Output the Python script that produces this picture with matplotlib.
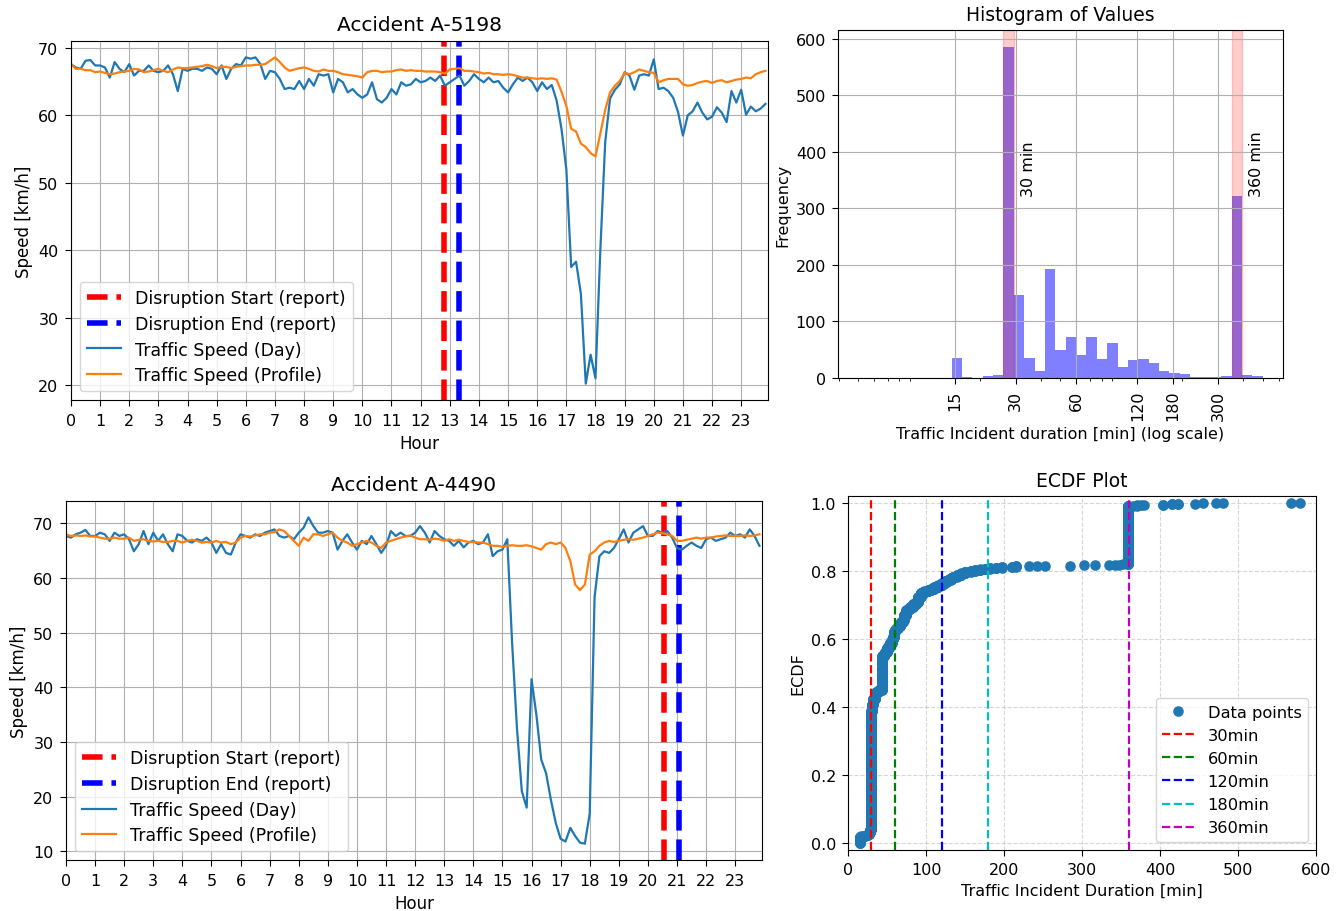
import numpy as np
import matplotlib
matplotlib.use("Agg")
import matplotlib.pyplot as plt

# ------------------------------------------------------------
# time series, 10 minute steps (144 per day)
hours = np.arange(144) / 6.0

day_5198 = [
    67.6, 67.1, 66.9, 68.1, 68.2, 67.4, 67.4, 67.1, 65.6, 67.9, 66.9, 66.4,
    67.6, 65.9, 66.6, 66.6, 67.4, 66.6, 66.4, 66.6, 67.4, 66.1, 63.6, 66.9,
    66.6, 66.9, 66.9, 66.6, 67.1, 66.9, 66.1, 67.4, 65.4, 66.9, 67.6, 67.4,
    68.6, 68.4, 68.6, 67.6, 65.4, 66.6, 66.4, 65.4, 63.9, 64.1, 63.9, 65.1,
    63.9, 65.4, 64.4, 66.1, 65.9, 66.1, 63.4, 65.4, 64.9, 63.4, 63.9, 63.1,
    62.6, 63.1, 64.9, 62.4, 61.9, 62.6, 63.9, 63.1, 64.9, 64.4, 64.6, 65.4,
    64.9, 65.1, 65.6, 65.1, 65.9, 64.4, 64.9, 65.4, 65.9, 64.4, 65.1, 66.1,
    65.4, 64.9, 65.6, 64.9, 65.1, 64.1, 63.4, 64.6, 65.6, 65.1, 65.6, 64.9,
    63.6, 64.9, 63.9, 64.5, 62.2, 58.0, 52.0, 37.5, 38.3, 33.5, 20.2, 24.5,
    21.0, 40.0, 56.0, 62.5, 63.8, 64.6, 66.4, 65.9, 63.8, 65.9, 66.1, 65.9,
    68.3, 63.9, 64.1, 63.6, 62.6, 60.5, 57.0, 60.0, 60.6, 61.9, 60.4, 59.4,
    59.8, 61.2, 60.4, 59.0, 63.6, 61.9, 63.8, 60.1, 61.3, 60.6, 61.0, 61.7,
]
profile_5198 = [
    67.6, 66.9, 66.9, 66.7, 66.7, 66.4, 66.5, 66.3, 66.1, 66.2, 66.4, 66.5,
    66.6, 66.9, 66.8, 66.4, 66.5, 66.7, 66.9, 66.6, 66.4, 66.8, 67.1, 67.0,
    67.0, 67.1, 67.2, 67.3, 67.5, 67.3, 67.0, 67.2, 67.2, 67.0, 67.2, 67.3,
    67.4, 67.4, 67.5, 67.5, 67.6, 68.1, 68.6, 67.9, 67.1, 66.6, 66.8, 67.0,
    67.1, 66.9, 66.6, 66.5, 66.8, 66.6, 66.6, 66.4, 66.1, 66.0, 65.9, 65.8,
    65.6, 66.4, 66.6, 66.6, 66.4, 66.5, 66.5, 66.7, 66.8, 66.6, 66.7, 66.6,
    66.6, 66.5, 66.5, 66.5, 66.4, 66.2, 66.8, 66.9, 67.0, 66.6, 66.6, 66.5,
    66.4, 66.2, 66.3, 66.1, 66.1, 66.0, 66.1, 66.0, 65.8, 65.6, 65.6, 65.5,
    65.4, 65.5, 65.4, 65.5, 65.3, 63.5, 61.4, 58.0, 57.6, 55.8, 55.3, 54.4,
    53.9, 57.3, 60.8, 63.4, 64.4, 65.1, 66.3, 66.1, 66.4, 66.8, 66.6, 66.4,
    66.3, 64.9, 65.2, 65.4, 65.4, 65.4, 64.6, 64.4, 64.5, 64.8, 65.0, 65.1,
    64.8, 65.1, 65.2, 64.9, 65.1, 65.3, 65.4, 65.6, 65.5, 66.1, 66.4, 66.6,
]
day_4490 = [
    67.7, 67.4, 68.0, 68.3, 68.8, 67.7, 67.7, 68.3, 68.0, 66.8, 68.3, 67.7,
    68.0, 67.1, 64.9, 66.2, 68.6, 66.2, 68.3, 66.8, 68.0, 66.2, 64.9, 68.0,
    67.7, 66.8, 66.5, 67.1, 66.8, 67.4, 66.5, 64.6, 66.2, 64.6, 64.3, 66.5,
    68.0, 67.7, 67.4, 68.0, 67.7, 68.3, 68.6, 68.9, 67.7, 67.4, 67.7, 67.1,
    68.3, 69.2, 71.1, 69.5, 68.3, 68.3, 68.6, 68.3, 65.2, 66.8, 68.0, 66.5,
    65.2, 66.8, 66.2, 67.7, 66.2, 64.6, 65.9, 68.6, 67.7, 68.3, 67.7, 67.7,
    68.3, 69.5, 68.3, 66.5, 68.6, 67.7, 67.1, 66.8, 65.9, 66.8, 65.6, 66.5,
    66.8, 66.2, 66.5, 68.0, 64.0, 64.9, 65.2, 67.1, 48.1, 32.5, 21.0, 18.0,
    41.5, 35.0, 26.8, 24.3, 19.4, 15.2, 12.3, 11.8, 14.3, 12.8, 11.6, 11.4,
    16.9, 56.5, 64.0, 64.9, 64.6, 65.5, 67.1, 68.9, 66.5, 68.3, 68.9, 69.5,
    67.7, 67.7, 68.6, 68.3, 68.6, 67.4, 65.5, 65.2, 65.9, 66.5, 65.9, 65.5,
    67.1, 67.4, 66.8, 67.1, 67.4, 68.3, 67.7, 68.0, 67.4, 68.9, 67.7, 65.9,
]
profile_4490 = [
    68.0, 67.7, 67.8, 67.7, 67.8, 67.6, 67.6, 67.4, 67.2, 67.2, 67.4, 67.2,
    67.2, 67.4, 66.8, 67.0, 67.1, 66.8, 66.7, 66.8, 66.6, 66.6, 66.8, 66.8,
    66.5, 66.8, 67.0, 66.8, 66.5, 66.6, 66.5, 66.8, 66.5, 66.6, 66.2, 66.5,
    67.4, 67.7, 67.6, 67.8, 68.0, 68.0, 68.3, 68.4, 68.9, 68.6, 67.7, 66.8,
    65.9, 67.4, 66.8, 68.0, 68.0, 67.7, 68.0, 68.3, 67.4, 66.8, 66.5, 65.9,
    66.2, 66.5, 66.8, 66.5, 65.9, 65.5, 66.5, 66.8, 67.1, 67.4, 67.6, 67.8,
    67.4, 67.1, 67.1, 67.0, 67.2, 67.1, 66.8, 67.1, 66.8, 67.0, 66.8, 66.6,
    66.6, 66.5, 66.5, 66.2, 65.9, 65.9, 65.7, 65.9, 66.0, 65.9, 65.9, 66.0,
    65.8, 65.5, 65.2, 66.2, 66.5, 66.2, 66.5, 65.5, 63.1, 58.8, 57.8, 58.8,
    64.3, 64.9, 65.9, 66.5, 66.8, 66.6, 66.8, 67.0, 67.1, 67.0, 67.2, 67.4,
    67.7, 68.0, 68.3, 68.2, 68.0, 67.7, 66.8, 66.8, 67.0, 67.2, 67.4, 67.2,
    67.4, 67.4, 67.6, 67.7, 67.8, 67.7, 67.7, 67.7, 67.8, 67.7, 67.8, 68.0,
]

# reported disruption start / end [hour]
start_5198, end_5198 = 12.8, 13.3
start_4490, end_4490 = 20.57, 21.07

# ------------------------------------------------------------
# incident durations [min] and how often each occurs
dur_values = [15, 16, 17, 21, 22, 24, 25, 27, 28, 29, 30, 31, 32, 34, 35, 36,
              38, 40, 43, 44, 46, 48, 50, 52, 54, 56, 58, 59, 60, 62, 64, 66,
              68, 70, 72, 74, 77, 80, 83, 87, 90, 93, 98, 102, 106, 110, 115,
              120, 124, 128, 132, 135, 140, 145, 150, 157, 163, 169, 176, 182,
              190, 197, 210, 215, 232, 242, 253, 285, 302, 316, 335, 342, 348,
              352, 359, 365, 370, 375, 380, 404, 415, 423, 445, 455, 472, 481,
              568, 580]
dur_counts = [34, 1, 2, 2, 2, 3, 3, 10, 15, 561, 80, 36, 30, 10, 14, 12,
              4, 9, 10, 172, 10, 12, 22, 16, 12, 18, 13, 30, 8, 8, 12, 13,
              12, 10, 25, 26, 8, 10, 16, 10, 30, 22, 7, 7, 6, 10, 10,
              12, 10, 8, 9, 7, 9, 9, 9, 5, 4, 4, 3, 3,
              3, 3, 2, 3, 1, 1, 1, 1, 1, 1, 1, 1, 1,
              1, 316, 1, 2, 1, 1, 2, 2, 2, 1, 1, 1, 1,
              1, 1]
# nominal durations highlighted in the histogram, and the recorded value
marked_labels = [30, 360]
marked_values = [29, 359]
thresholds = [30, 60, 120, 180, 360]
thr_colors = ['r', 'g', 'b', 'c', 'm']

durations = np.repeat(dur_values, dur_counts)

fig = plt.figure(figsize=(13.41, 9.12), dpi=100)


def speed_panel(ax, title, day, profile, t0, t1):
    ax.axvline(t0, color='red', linestyle='--', linewidth=4,
               label='Disruption Start (report)')
    ax.axvline(t1, color='blue', linestyle='--', linewidth=4,
               label='Disruption End (report)')
    ax.plot(hours, day, color='tab:blue', linewidth=1.6, label='Traffic Speed (Day)')
    ax.plot(hours, profile, color='tab:orange', linewidth=1.6,
            label='Traffic Speed (Profile)')
    ax.set_xlim(0, 23.92)
    ax.set_xticks(range(24))
    ax.tick_params(labelsize=11.5, length=4, pad=5)
    ax.grid(True)
    ax.set_title(title, fontsize=14.5, pad=8)
    ax.set_xlabel('Hour', fontsize=12, labelpad=5)
    ax.set_ylabel('Speed [km/h]', fontsize=12)
    ax.legend(loc='lower left', fontsize=12.5, labelspacing=0.45)


ax1 = fig.add_axes([0.0529, 0.5603, 0.5198, 0.3936])
speed_panel(ax1, 'Accident A-5198', day_5198, profile_5198, start_5198, end_5198)

ax3 = fig.add_axes([0.0492, 0.0559, 0.5190, 0.3936])
speed_panel(ax3, 'Accident A-4490', day_4490, profile_4490, start_4490, end_4490)

# ------------------------------------------------------------
# histogram, log bins
ax2 = fig.add_axes([0.6249, 0.5844, 0.3318, 0.3816])
bins = np.logspace(np.log10(5), np.log10(500), 40)
counts, edges, _ = ax2.hist(durations, bins=bins, color='blue', alpha=0.5)
ax2.set_xscale('log')
for lab, val in zip(marked_labels, marked_values):
    i = np.searchsorted(edges, val, side='right') - 1
    ax2.axvspan(edges[i], edges[i + 1], color='red', alpha=0.2)
    ax2.annotate(f'{lab} min', xy=(edges[i + 1], counts.max() * 0.55),
                 xytext=(5, 0), textcoords='offset points', rotation=90,
                 ha='left', va='bottom', fontsize=11.5)
ax2.set_xticks([15, 30, 60, 120, 180, 300])
ax2.set_xticklabels(['15', '30', '60', '120', '180', '300'], rotation=90)
ax2.tick_params(labelsize=11.5, length=4, pad=4.5)
ax2.grid(True)
ax2.set_title('Histogram of Values', fontsize=13.5, pad=7)
ax2.set_xlabel('Traffic Incident duration [min] (log scale)', fontsize=11.5)
ax2.set_ylabel('Frequency', fontsize=11.5)

# ------------------------------------------------------------
# ECDF
ax4 = fig.add_axes([0.6324, 0.0669, 0.3490, 0.3882])
xs = np.sort(durations)
ys = np.arange(1, len(xs) + 1) / len(xs)
ax4.plot(xs, ys, marker='o', markersize=6.6, linestyle='none', label='Data points')
for t, c in zip(thresholds, thr_colors):
    ax4.axvline(t, color=c, linestyle='--', linewidth=1.6, label=f'{t}min')
ax4.set_xlim(0, 600)
ax4.set_ylim(-0.02, 1.02)
ax4.tick_params(labelsize=11.5, length=4, pad=4.5)
ax4.grid(True, linestyle='--', alpha=0.5)
ax4.set_title('ECDF Plot', fontsize=13.5, pad=7)
ax4.set_xlabel('Traffic Incident Duration [min]', fontsize=11.5)
ax4.set_ylabel('ECDF', fontsize=11.5)
ax4.legend(loc='lower right', fontsize=11.7)

fig.savefig('out.png', dpi=100)
